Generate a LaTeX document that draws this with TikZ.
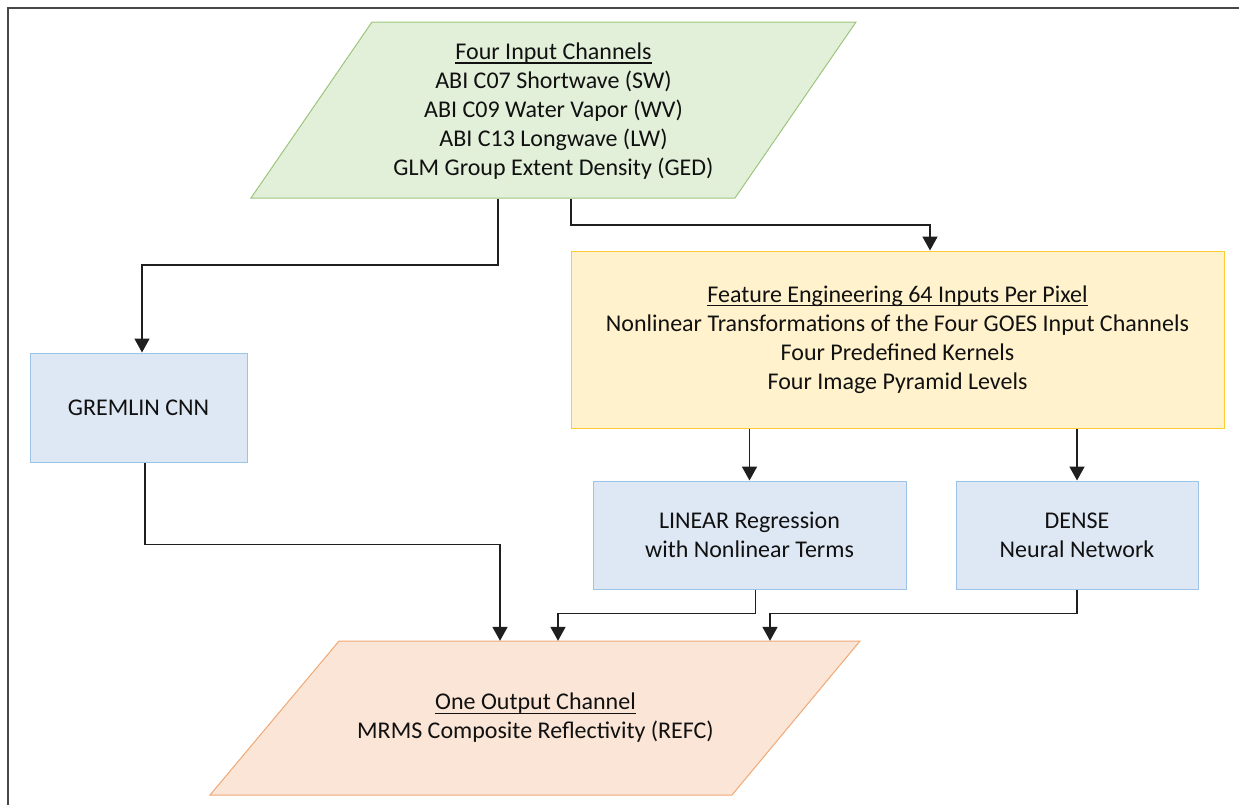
\documentclass[tikz,border=0pt]{standalone}
\usepackage{fontspec}
\setmainfont{Carlito}
\usetikzlibrary{arrows.meta}
\newcommand{\myul}[1]{\leavevmode\setbox0\hbox{#1}\rlap{\rule[-4.2pt]{\wd0}{1.3pt}}\box0}
\definecolor{greenfill}{HTML}{E2EFD9}
\definecolor{greenbd}{HTML}{9CC67E}
\definecolor{yelfill}{HTML}{FFF2CC}
\definecolor{yelbd}{HTML}{FFCC33}
\definecolor{bluefill}{HTML}{DEE8F4}
\definecolor{bluebd}{HTML}{9DC3E6}
\definecolor{orfill}{HTML}{FBE5D6}
\definecolor{orbd}{HTML}{F0A875}
\definecolor{textc}{HTML}{111111}
\begin{document}
\begin{tikzpicture}[x=1pt,y=-1pt,
  font=\fontsize{24pt}{29pt}\selectfont,
  txt/.style={align=center, inner sep=0pt, text=textc},
  box/.style={txt, draw, line width=1pt},
  bluebox/.style={box, draw=bluebd, fill=bluefill},
  arr/.style={-{Triangle[width=15pt,length=14pt]}, line width=1.8pt, draw=black!88},
  paragreen/.style={fill=greenfill, draw=greenbd, line width=1pt},
  paraorange/.style={fill=orfill, draw=orbd, line width=1pt},
  framel/.style={line width=2pt, draw=black!72}]
\useasboundingbox (0,0) rectangle (1239,804);
\draw[framel] (8,806) -- (8,8) -- (1241,8);

% input parallelogram
\path[paragreen] (372,22) -- (856,22) -- (735,198) -- (251,198) -- cycle;
\node[txt, minimum height=176pt] (inp) at (553.5,111)
  {\myul{Four Input Channels}\\ABI C07 Shortwave (SW)\\ABI C09 Water Vapor (WV)\\ABI C13 Longwave (LW)\\GLM Group Extent Density (GED)};

% feature engineering box
\node[box, draw=yelbd, fill=yelfill, minimum width=653pt, minimum height=177pt] (feat) at (897.5,339.5)
  {\myul{Feature Engineering 64 Inputs Per Pixel}\\Nonlinear Transformations of the Four GOES Input Channels\\Four Predefined Kernels\\Four Image Pyramid Levels};

% model boxes
\node[bluebox, minimum width=217pt, minimum height=109pt] (grem) at (138.5,407.5) {GREMLIN CNN};
\node[bluebox, minimum width=313pt, minimum height=108pt] (lin) at (749.5,535) {LINEAR Regression\\with Nonlinear Terms};
\node[bluebox, minimum width=242pt, minimum height=108pt] (den) at (1077,535) {DENSE\\Neural Network};

% output parallelogram
\path[paraorange] (339,641) -- (860,641) -- (732,795) -- (210,795) -- cycle;
\node[txt, minimum height=154pt] (out) at (535.5,718)
  {\myul{One Output Channel}\\MRMS Composite Reflectivity (REFC)};

% connectors
\draw[arr] ([xshift=-55.5pt]inp.south) -- ++(0,66) -| ([xshift=3.5pt]grem.north);
\draw[arr] ([xshift=17.5pt]inp.south) -- ++(0,26) -| ([xshift=32.5pt]feat.north);
\draw[arr] (feat.south -| lin.north) -- (lin.north);
\draw[arr] (feat.south -| den.north) -- (den.north);
\draw[arr] ([xshift=6.5pt]grem.south) -- ++(0,82) -| ([xshift=-35.5pt]out.north);
\draw[arr] ([xshift=6pt]lin.south) -- ++(0,24) -| ([xshift=22.5pt]out.north);
\draw[arr] (den.south) -- ++(0,24) -| ([xshift=234.5pt]out.north);
\end{tikzpicture}
\end{document}
